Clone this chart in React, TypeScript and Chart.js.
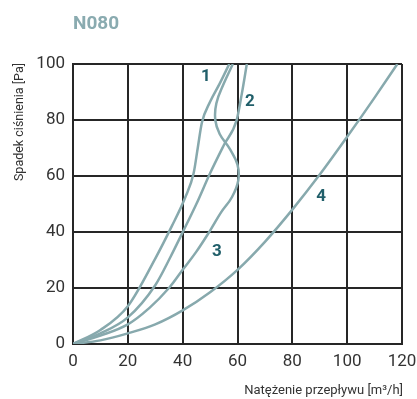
import React, { useEffect, useRef } from "react";
import { Chart, registerables } from "chart.js";

Chart.register(...registerables);

const xTicks = [0, 20, 40, 60, 80, 100, 120];
const yTicks = [0, 20, 40, 60, 80, 100];

const curve1X = [0, 10, 20, 30, 36, 41, 44, 45.5, 47, 50, 53.5, 57];
const curve1Y = [0, 5, 13.5, 30.5, 42, 52.5, 61, 70, 79, 86.5, 93, 100];

const curve2X = [0, 10, 20, 30, 35.5, 40.3, 45, 50, 55, 59.7, 61.6, 63.4];
const curve2Y = [0, 3.8, 9.5, 21, 31, 40.5, 50, 61, 71, 80, 89.5, 100];

const curve3X = [0, 10, 20, 28, 35, 40, 45, 50, 54, 58, 60.3, 60, 57.3, 53.5, 51.9, 52.3, 55, 58.3];
const curve3Y = [0, 3, 7, 13, 20, 26.5, 33, 40.5, 47, 52.5, 58.5, 64, 69.5, 75, 80, 86, 93, 100];

const curve4X = [0, 10, 20, 30, 40, 50, 60, 70, 80, 90, 100, 110, 118.3];
const curve4Y = [0, 1.3, 3.8, 7, 12, 18.5, 26.5, 36.5, 48, 60.5, 74, 88, 100];

const curveLabels = ["1", "2", "3", "4"];
const labelAt = [
  [48.5, 95.5],
  [64.5, 86.5],
  [52.5, 33],
  [90.5, 52.5],
];

const title = "N080";
const xTitle = "Natężenie przepływu [m³/h]";
const yTitle = "Spadek ciśnienia [Pa]";

const LINE = "#87a9ad";
const GRID = "#262626";

function pts(xs: number[], ys: number[]) {
  return xs.map((x, i) => ({ x, y: ys[i] }));
}

export default function App() {
  const ref = useRef<HTMLCanvasElement>(null);
  useEffect(() => {
    if (!ref.current) return;
    const textPlugin = {
      id: "texts",
      afterDraw(chart: any) {
        const ctx = chart.ctx;
        const xs = chart.scales.x;
        const ys = chart.scales.y;
        ctx.save();
        ctx.fillStyle = "#8aabb0";
        ctx.font = "bold 19px Roboto, 'DejaVu Sans', sans-serif";
        ctx.textAlign = "left";
        ctx.textBaseline = "middle";
        ctx.fillText(title, 73, 24);

        ctx.fillStyle = "#215f6a";
        ctx.font = "bold 17px Roboto, 'DejaVu Sans', sans-serif";
        ctx.textAlign = "center";
        curveLabels.forEach((t, i) => {
          ctx.fillText(t, xs.getPixelForValue(labelAt[i][0]), ys.getPixelForValue(labelAt[i][1]));
        });

        ctx.fillStyle = "#333";
        ctx.font = "13px Roboto, 'DejaVu Sans', sans-serif";
        ctx.textAlign = "right";
        ctx.fillText(xTitle, xs.right + 1, 391);

        ctx.translate(20, ys.top);
        ctx.rotate(-Math.PI / 2);
        ctx.font = "12.5px Roboto, 'DejaVu Sans', sans-serif";
        ctx.textAlign = "right";
        ctx.fillText(yTitle, 1, 0);
        ctx.restore();
      },
    };
    const mono = { cubicInterpolationMode: "monotone" };
    const chart = new Chart(ref.current, {
      type: "scatter",
      data: {
        datasets: [
          { data: pts(curve1X, curve1Y), ...mono },
          { data: pts(curve2X, curve2Y), ...mono },
          { data: pts(curve3X, curve3Y), tension: 0.4 },
          { data: pts(curve4X, curve4Y), ...mono },
        ].map((d) => ({
          ...d,
          showLine: true,
          borderColor: LINE,
          backgroundColor: LINE,
          borderWidth: 2.5,
          pointRadius: 0,
          fill: false,
        })),
      },
      options: {
        responsive: false,
        animation: false,
        layout: { padding: { top: 64, right: 15, left: 0, bottom: 0 } },
        plugins: { legend: { display: false }, tooltip: { enabled: false } },
        scales: {
          x: {
            type: "linear",
            min: 0,
            max: 120,
            afterBuildTicks: (s: any) => {
              s.ticks = xTicks.map((v) => ({ value: v }));
            },
            afterFit: (s: any) => {
              s.height = 55;
              s.paddingLeft = 0;
              s.paddingRight = 0;
            },
            grid: { color: GRID, lineWidth: 2, drawTicks: false },
            border: { color: GRID, width: 2 },
            ticks: {
              color: "#333",
              padding: 8,
              font: { family: "Roboto, 'DejaVu Sans', sans-serif", size: 17 },
            },
          },
          y: {
            type: "linear",
            min: 0,
            max: 100,
            afterBuildTicks: (s: any) => {
              s.ticks = yTicks.map((v) => ({ value: v }));
            },
            afterFit: (s: any) => {
              s.width = 73;
              s.paddingTop = 0;
              s.paddingBottom = 0;
            },
            grid: { color: GRID, lineWidth: 2, drawTicks: false },
            border: { color: GRID, width: 2 },
            ticks: {
              color: "#333",
              padding: 8,
              font: { family: "Roboto, 'DejaVu Sans', sans-serif", size: 17 },
            },
          },
        },
      },
      plugins: [textPlugin],
    } as any);
    return () => chart.destroy();
  }, []);
  return (
    <div style={{ position: "absolute", left: 0, top: 0, width: 417, height: 399, background: "#fff" }}>
      <canvas ref={ref} width={417} height={399} style={{ width: 417, height: 399 }} />
    </div>
  );
}
